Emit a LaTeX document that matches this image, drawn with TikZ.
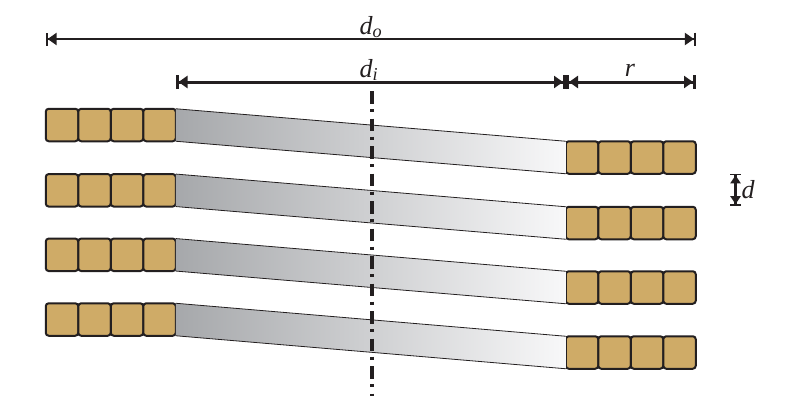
\documentclass[tikz,border=0pt]{standalone}
\usepackage{fontspec}
\setmainfont{Liberation Serif}
\usepackage{xcolor}
\usepackage{tikz}
\usetikzlibrary{positioning,arrows.meta}
\definecolor{cellfill}{HTML}{CFAB67}
\definecolor{inkline}{HTML}{231F20}
\definecolor{bandleft}{HTML}{A6A8AB}
\definecolor{bandright}{HTML}{F8F8F9}
\tikzstyle{cell}=[rectangle, draw=inkline, rounded corners=3pt, fill=cellfill, line width=2pt,
        minimum width=32.5pt, minimum height=32.5pt, inner sep=0pt, outer sep=0pt]
\tikzstyle{band}=[left color=bandleft, right color=bandright, shading angle=90]
\tikzstyle{bandedge}=[-, draw=inkline, line width=0.8pt]
\tikzstyle{dimthin}=[draw=inkline, line width=2pt,
        {Bar[width=13pt,line width=1.6pt]Triangle[length=9pt,width=12pt]}-{Triangle[length=9pt,width=12pt]Bar[width=13pt,line width=1.6pt]}]
\tikzstyle{dimthick}=[draw=inkline, line width=3pt,
        {Bar[width=14pt,line width=3pt]Triangle[length=9pt,width=12pt]}-{Triangle[length=9pt,width=12pt]Bar[width=14pt,line width=3pt]}]
\tikzstyle{dimshort}=[draw=inkline, line width=2.6pt,
        {Bar[width=11pt,line width=1.8pt]Triangle[length=8pt,width=10pt]}-{Triangle[length=8pt,width=10pt]Bar[width=11pt,line width=1.8pt]}]
\tikzstyle{axisline}=[draw=inkline, line width=4pt, dash pattern=on 12.5pt off 5.5pt on 3pt off 6.5pt]
\tikzstyle{dimtext}=[text=inkline, font=\fontsize{26}{28}\selectfont\itshape, inner sep=0pt]

\begin{document}
\begin{tikzpicture}[x=1pt, y=-1pt]
    \useasboundingbox (0,0) rectangle (792,418);
    \foreach \row/\ly/\ry in {1/125/157.5, 2/190.3/223, 3/254.8/287.5, 4/319.5/352.5}
    {
        \node (L\row-1) [cell] at (62,\ly) {};
        \node (L\row-2) [cell, right=0pt of L\row-1] {};
        \node (L\row-3) [cell, right=0pt of L\row-2] {};
        \node (L\row-4) [cell, right=0pt of L\row-3] {};
        \node (R\row-1) [cell] at (582,\ry) {};
        \node (R\row-2) [cell, right=0pt of R\row-1] {};
        \node (R\row-3) [cell, right=0pt of R\row-2] {};
        \node (R\row-4) [cell, right=0pt of R\row-3] {};
        \shade[band] (L\row-4.north east) -- (R\row-1.north west) -- (R\row-1.south west) -- (L\row-4.south east) -- cycle;
        \draw[bandedge] (L\row-4.north east) -- (R\row-1.north west);
        \draw[bandedge] (L\row-4.south east) -- (R\row-1.south west);
    }
    \coordinate (axisTop) at (372,91);
    \coordinate (axisEnd) at (372,396);
    \draw[axisline] (axisTop) -- (axisEnd);
    \coordinate (doLeft) at (46,39);
    \coordinate (doRight) at (695.5,39);
    \coordinate (diLeft) at (175.5,82);
    \coordinate (diRight) at (566,82);
    \coordinate (rLeft) at (566,82);
    \coordinate (rRight) at (696,82);
    \coordinate (dTop) at (735.5,173.5);
    \coordinate (dEnd) at (735.5,206);
    \draw[dimthin] (doLeft) -- (doRight);
    \draw[dimthick] (diLeft) -- (diRight);
    \draw[dimthick] (rLeft) -- (rRight);
    \draw[dimshort] (dTop) -- (dEnd);
    \node (doLabel) [dimtext] at (371,27) {d\textsubscript{o}};
    \node (diLabel) [dimtext] at (369,70) {d\textsubscript{i}};
    \node (rLabel) [dimtext] at (630,70) {r};
    \node (dLabel) [dimtext] at (748,190) {d};
\end{tikzpicture}
\end{document}
